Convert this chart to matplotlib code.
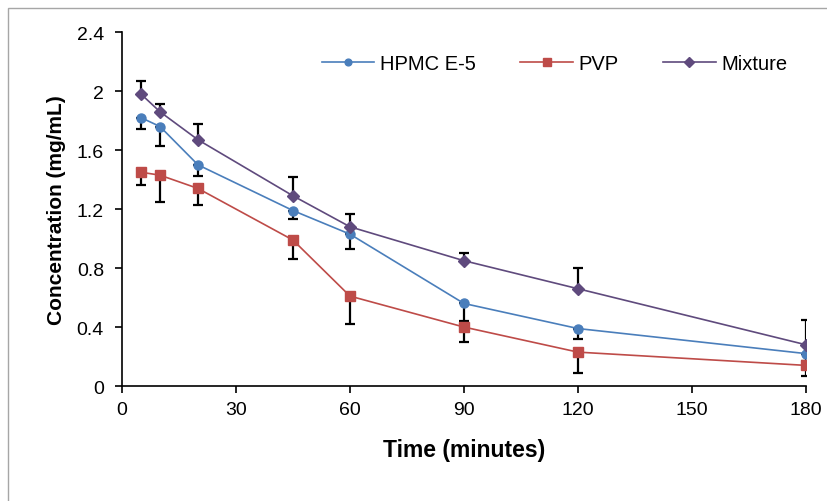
import numpy as np
import matplotlib.pyplot as plt
from matplotlib.patches import Rectangle

plt.rcParams['font.family'] = ['Liberation Sans', 'DejaVu Sans']

# time points (minutes)
time = [5, 10, 20, 45, 60, 90, 120, 180]

# mean concentrations (mg/mL)
hpmc = [1.82, 1.76, 1.50, 1.19, 1.03, 0.56, 0.39, 0.22]
pvp = [1.45, 1.43, 1.34, 0.99, 0.61, 0.40, 0.23, 0.14]
mixture = [1.98, 1.86, 1.67, 1.29, 1.08, 0.85, 0.66, 0.28]

# one-sided error bars
hpmc_err = [0.08, 0.13, 0.075, 0.055, 0.10, 0.12, 0.07, 0.05]   # lower
pvp_err = [0.09, 0.18, 0.11, 0.13, 0.19, 0.10, 0.14, 0.07]      # lower
mix_err = [0.09, 0.05, 0.11, 0.125, 0.085, 0.055, 0.14, 0.165]  # upper

labels = ['HPMC E-5', 'PVP', 'Mixture']
colors = ['#4A7EBB', '#BE4B48', '#5F4A7D']

fig = plt.figure(figsize=(8.27, 5.02), dpi=100)
ax = fig.add_axes([0.1475, 0.229, 0.827, 0.705])

# gray outer frame (chart area border)
fig.patches.append(Rectangle((8/827, -0.1), 1.2, (502-9)/502 + 0.1, transform=fig.transFigure,
                             fill=False, edgecolor='#A6A6A6', linewidth=1.0))

zeros = [0]*len(time)
ax.errorbar(time, hpmc, yerr=[hpmc_err, zeros], fmt='none', ecolor='black', elinewidth=1.6,
            capsize=3.6, capthick=1.6, zorder=2)
ax.errorbar(time, pvp, yerr=[pvp_err, zeros], fmt='none', ecolor='black', elinewidth=1.6,
            capsize=3.6, capthick=1.6, zorder=2)
ax.errorbar(time, mixture, yerr=[zeros, mix_err], fmt='none', ecolor='black', elinewidth=1.6,
            capsize=3.6, capthick=1.6, zorder=2)

ax.plot(time, hpmc, '-o', color=colors[0], lw=1.2, ms=6.5, label=labels[0], zorder=3)
ax.plot(time, pvp, '-s', color=colors[1], lw=1.2, ms=7.5, label=labels[1], zorder=3)
ax.plot(time, mixture, '-D', color=colors[2], lw=1.2, ms=6.2, label=labels[2], zorder=3)

ax.set_xlim(0, 180)
ax.set_ylim(0, 2.4)
ax.set_xticks([0, 30, 60, 90, 120, 150, 180])
ax.set_yticks([0, 0.4, 0.8, 1.2, 1.6, 2.0, 2.4])
ax.set_yticklabels(['0', '0.4', '0.8', '1.2', '1.6', '2', '2.4'])

for s in ['top', 'right']:
    ax.spines[s].set_visible(False)
for s in ['left', 'bottom']:
    ax.spines[s].set_linewidth(1.2)
ax.spines['left'].set_zorder(1)

ax.tick_params(axis='both', direction='out', length=5, width=1.2, labelsize=14)
ax.tick_params(axis='y', pad=8)
ax.tick_params(axis='x', pad=6)

ax.set_xlabel('Time (minutes)', fontsize=16.5, fontweight='bold', labelpad=14)
ax.set_ylabel('Concentration (mg/mL)', fontsize=15, fontweight='bold', labelpad=8)

ax.legend(loc='upper right', ncol=3, frameon=False, fontsize=14.5, bbox_to_anchor=(1.0, 0.99),
          handlelength=2.6, columnspacing=2.2, handletextpad=0.3, markerscale=0.75)

fig.savefig('out.png', dpi=100)
